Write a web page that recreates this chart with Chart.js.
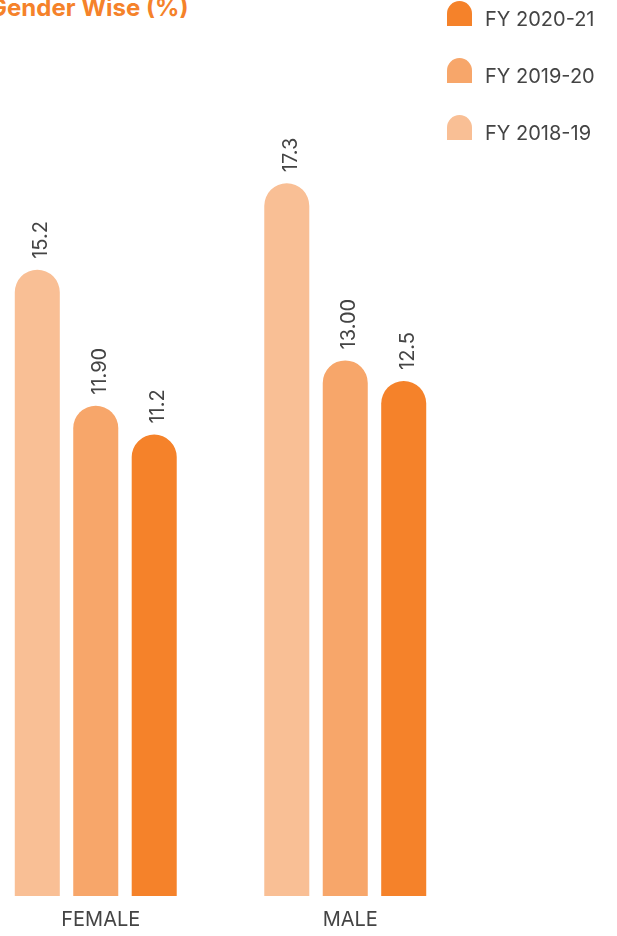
<!DOCTYPE html>
<html>
<head>
<meta charset="utf-8">
<script src="https://cdn.jsdelivr.net/npm/chart.js@4/dist/chart.umd.min.js"></script>
<style>
  body { margin: 0; background: #fff; font-family: Inter, "Noto Sans", sans-serif; overflow: hidden; }
  #wrap { position: relative; width: 617px; height: 936px; overflow: hidden; }
  #title { position: absolute; left: -11px; top: -6px; font: bold 24px/28px Inter, sans-serif; color: #f5822a; white-space: nowrap; }
  #box { position: absolute; left: -29px; top: 0; width: 499px; height: 936px; }
  #legend { position: absolute; left: 447px; top: 1px; }
  .item { height: 57px; position: relative; }
  .sw { position: absolute; left: 0; top: 0; width: 25px; height: 25px; border-radius: 12.5px 12.5px 0 0; }
  .lbl { position: absolute; left: 38px; top: 6px; font: 20px/24px Inter, sans-serif; color: #444; white-space: nowrap; }
</style>
</head>
<body>
<div id="wrap">
  <div id="title">Gender Wise (%)</div>
  <div id="box"><canvas id="barChart"></canvas></div>
  <div id="legend"></div>
</div>
<script>
// datos del grafico
var categorias = ["FEMALE", "MALE"];
var series = ["FY 2018-19", "FY 2019-20", "FY 2020-21"];
var fy1819 = [15.2, 17.3];
var fy1920 = [11.9, 13.0];
var fy2021 = [11.2, 12.5];
var textos1819 = ["15.2", "17.3"];
var textos1920 = ["11.90", "13.00"];
var textos2021 = ["11.2", "12.5"];
var colores = ["#f9bf95", "#f7a66a", "#f5822a"];

// leyenda en html (orden invertido como en el original)
var leyenda = document.getElementById("legend");
for (var i = series.length - 1; i >= 0; i--) {
  leyenda.innerHTML += '<div class="item"><div class="sw" style="background:' + colores[i] + '"></div><div class="lbl">' + series[i] + '</div></div>';
}

var textos = [textos1819, textos1920, textos2021];

// etiquetas giradas encima de cada barra
var etiquetas = {
  id: "etiquetas",
  afterDatasetsDraw: function (chart) {
    var ctx = chart.ctx;
    ctx.save();
    ctx.font = "20px Inter, sans-serif";
    ctx.fillStyle = "#444";
    ctx.textAlign = "left";
    ctx.textBaseline = "alphabetic";
    chart.data.datasets.forEach(function (ds, d) {
      chart.getDatasetMeta(d).data.forEach(function (bar, j) {
        ctx.save();
        ctx.translate(bar.x + 10, bar.y - 11);
        ctx.rotate(-Math.PI / 2);
        ctx.fillText(textos[d][j], 0, 0);
        ctx.restore();
      });
    });
    ctx.restore();
  }
};

var canvas = document.getElementById("barChart");
new Chart(canvas, {
  type: "bar",
  data: {
    labels: categorias,
    datasets: [
      { label: series[0], data: fy1819, backgroundColor: colores[0] },
      { label: series[1], data: fy1920, backgroundColor: colores[1] },
      { label: series[2], data: fy2021, backgroundColor: colores[2] }
    ]
  },
  options: {
    responsive: true,
    maintainAspectRatio: false,
    animation: false,
    layout: { padding: { top: 72, left: 0, right: 0, bottom: 0 } },
    datasets: {
      bar: {
        categoryPercentage: 0.703,
        barPercentage: 0.77,
        borderRadius: 30,
        borderSkipped: "start"
      }
    },
    plugins: { legend: { display: false }, tooltip: { enabled: false } },
    scales: {
      x: {
        grid: { display: false, drawTicks: false },
        border: { display: false },
        ticks: { color: "#444", font: { family: "Inter", size: 20 }, padding: 12, labelOffset: 5 },
        afterFit: function (scale) { scale.height = 40; }
      },
      y: { display: false, min: 0, max: 20 }
    }
  },
  plugins: [etiquetas]
});
</script>
</body>
</html>
